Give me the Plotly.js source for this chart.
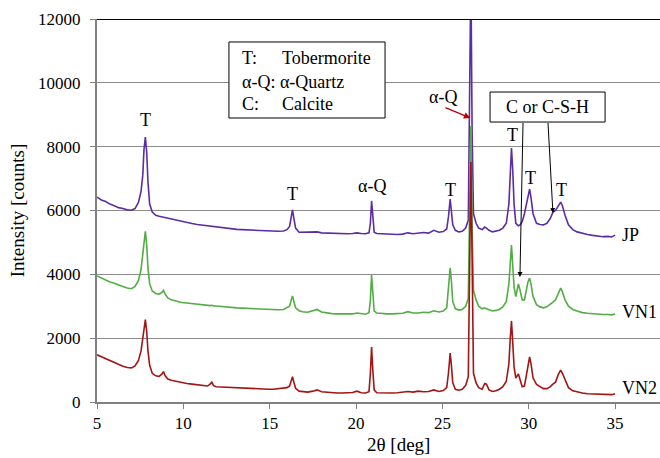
<!DOCTYPE html>
<html>
<head>
<meta charset="utf-8">
<script src="https://cdn.plot.ly/plotly-3.0.1.min.js"></script>
<style>html,body{margin:0;padding:0;background:#fff;}#chart{width:660px;height:458px;}</style>
</head>
<body>
<div id="chart"></div>
<script>
// 2-theta positions (deg)
var twoTheta = [
  5.0, 5.25, 5.5, 5.75, 6.0, 6.25, 6.5, 6.75, 7.0, 7.2,
  7.4, 7.55, 7.65, 7.72, 7.8, 7.88, 7.95, 8.05, 8.2, 8.4,
  8.6, 8.75, 8.85, 8.95, 9.1,
  9.3, 9.6, 9.9, 10.2, 10.5, 10.8, 11.1, 11.4,
  11.55, 11.65, 11.75,
  11.9, 12.2, 12.5, 12.8, 13.1, 13.4, 13.7, 14.0, 14.3, 14.6, 14.9, 15.2, 15.5, 15.8, 16.0,
  16.15, 16.25, 16.32, 16.4, 16.5, 16.7,
  16.9, 17.2, 17.5, 17.75, 18.0, 18.3, 18.6, 18.9, 19.2, 19.5, 19.8, 20.05, 20.3, 20.55, 20.75,
  20.83, 20.9, 20.97, 21.05,
  21.2, 21.5, 21.8, 22.1, 22.4, 22.7, 23.0, 23.3, 23.6, 23.9, 24.2, 24.5, 24.8, 25.05, 25.25,
  25.35, 25.45, 25.52, 25.6, 25.75,
  25.95, 26.15, 26.35, 26.5,
  26.58, 26.65, 26.72,
  26.8, 26.95, 27.1, 27.3, 27.45, 27.55, 27.7, 27.9, 28.1, 28.3, 28.5, 28.7, 28.85,
  28.93, 29.0, 29.07, 29.15, 29.25,
  29.4, 29.5, 29.62, 29.75, 29.85, 29.95, 30.05, 30.13, 30.25, 30.45, 30.65, 30.85, 31.05, 31.25,
  31.4, 31.55, 31.7, 31.85, 31.95, 32.1, 32.3, 32.55, 32.8, 33.1, 33.4, 33.7, 34.0, 34.3, 34.6, 34.8, 35.0
];
var jp = [
  6420, 6330, 6280, 6200, 6150, 6090, 6060, 6020, 6010, 6060,
  6250, 6600, 7100, 7900, 8300, 7800, 6900, 6200, 5950, 5850,
  5820, 5800, 5810, 5780, 5760,
  5730, 5700, 5650, 5630, 5590, 5560, 5540, 5520,
  5500, 5510, 5490,
  5480, 5460, 5440, 5430, 5410, 5400, 5390, 5380, 5370, 5360, 5350, 5350, 5350, 5360, 5400,
  5500, 5800, 6020, 5750, 5450, 5320,
  5320, 5310, 5310, 5330, 5300, 5290, 5290, 5280, 5280, 5270, 5280, 5300, 5280, 5270, 5300,
  5600, 6300, 5700, 5320,
  5280, 5270, 5260, 5260, 5250, 5260, 5300, 5270, 5280, 5310, 5290, 5380, 5320, 5340, 5420,
  5800, 6360, 6000, 5550, 5380,
  5330, 5350, 5450, 5700,
  9000, 13500, 8500,
  5900, 5600, 5450, 5400, 5480, 5450, 5380, 5330, 5350, 5380, 5450, 5600, 6200,
  7200, 7960, 7300, 6200, 5600,
  5520, 5550, 5650, 5900, 6200, 6500, 6670, 6400, 5900, 5600, 5560, 5550, 5600, 5750,
  5950, 6000, 6150, 6260, 6150, 5850, 5550, 5400, 5330, 5280, 5250, 5220, 5200, 5180, 5190, 5170, 5230
];
var vn1 = [
  3950, 3880, 3820, 3760, 3720, 3660, 3620, 3570, 3550, 3620,
  3800, 4150, 4600, 5100, 5350, 4900, 4200, 3700, 3480, 3400,
  3380, 3430, 3500, 3380, 3260,
  3200, 3150, 3120, 3100, 3080, 3060, 3040, 3030,
  3020, 3030, 3010,
  3010, 2990, 2970, 2960, 2950, 2940, 2930, 2920, 2910, 2900, 2890, 2890, 2890, 2900, 2950,
  3000, 3200, 3320, 3150, 2950, 2860,
  2830, 2810, 2850, 2900, 2820, 2790, 2770, 2760, 2760, 2750, 2760, 2790, 2760, 2750, 2800,
  3200, 3980, 3300, 2850,
  2790, 2770, 2760, 2760, 2770, 2780, 2830, 2790, 2790, 2810, 2800, 2860, 2820, 2850, 2950,
  3500, 4200, 3800, 3150, 2920,
  2880, 2900, 3000, 3250,
  6000, 8650, 5500,
  3500, 3200, 3000, 2920, 2950, 2920, 2880, 2850, 2870, 2900, 2980, 3150, 3700,
  4400, 4920, 4300, 3600, 3300,
  3700, 3500, 3200, 3200, 3450, 3750, 3880, 3700, 3300, 3050, 2980, 2950, 2980, 3050,
  3130, 3200, 3400, 3570, 3450, 3200, 3000, 2900, 2850, 2800, 2780, 2760, 2750, 2740, 2740, 2730, 2760
];
var vn2 = [
  1480, 1420, 1350, 1290, 1230, 1170, 1120, 1080, 1070, 1130,
  1300, 1600, 2000, 2400, 2580, 2200, 1600, 1150, 900, 820,
  800, 870, 950, 820, 720,
  680, 640, 600, 580, 560, 540, 520, 500,
  560, 620, 510,
  480, 470, 460, 450, 440, 430, 420, 420, 410, 410, 400, 400, 410, 420, 450,
  500, 700, 790, 620, 430, 340,
  320, 310, 340, 380, 320, 300, 290, 280, 280, 280, 300, 340, 290, 280, 320,
  900, 1720, 1000, 380,
  290, 280, 270, 280, 290, 300, 330, 310, 340, 320, 330, 380, 330, 360, 450,
  900, 1530, 1150, 600, 400,
  370, 400, 520, 800,
  5000, 7520, 4500,
  900, 600, 450, 400, 580, 560, 380, 330, 350, 400, 480, 650, 1200,
  2000, 2540, 1900, 1100, 750,
  880, 700, 480, 500, 800, 1200, 1410, 1200, 750, 550, 480, 420, 420, 480,
  560, 620, 850, 1000, 900, 680, 450, 350, 310, 280, 260, 250, 240, 230, 240, 230, 260
];
var seriesNames = ['JP', 'VN1', 'VN2'];
var xTicks = [5, 10, 15, 20, 25, 30, 35];
var yTicks = [0, 2000, 4000, 6000, 8000, 10000, 12000];

var FONT = '"Liberation Serif", "Times New Roman", Times, serif';
var colors = ['#5c2ca4', '#52ad43', '#a11515'];
var ys = [jp, vn1, vn2];

var traces = ys.map(function (y, i) {
  return {
    x: twoTheta, y: y, type: 'scatter', mode: 'lines', name: seriesNames[i],
    line: {color: colors[i], width: 1.6}, hoverinfo: 'skip'
  };
});

function label(x, y, t, extra) {
  var a = {x: x, y: y, xref: 'x', yref: 'y', text: t, showarrow: false,
    font: {family: FONT, size: 18, color: '#000'}, xanchor: 'center', yanchor: 'middle'};
  for (var k in extra) a[k] = extra[k];
  return a;
}
function arrow(x, y, ax, ay, color, w) {
  return {x: x, y: y, ax: ax, ay: ay, xref: 'x', yref: 'y', axref: 'x', ayref: 'y',
    text: '', showarrow: true, arrowhead: 2, arrowsize: 1, arrowwidth: w, arrowcolor: color};
}

var annotations = [
  label(7.8, 8835, 'T'),
  label(16.3, 6520, 'T'),
  label(20.9, 6770, 'α-Q'),
  label(25.45, 6640, 'T'),
  label(25.03, 9555, 'α-Q'),
  label(29.03, 8365, 'T'),
  label(30.1, 7020, 'T'),
  label(31.9, 6640, 'T'),
  label(35.28, 5230, seriesNames[0], {xanchor: 'left'}),
  label(35.28, 2820, seriesNames[1], {xanchor: 'left'}),
  label(35.28, 440, seriesNames[2], {xanchor: 'left'}),
  label(13.3, 10778, 'T:', {xanchor: 'left'}),
  label(15.6, 10778, 'Tobermorite', {xanchor: 'left'}),
  label(13.3, 10026, 'α-Q: α-Quartz', {xanchor: 'left'}),
  label(13.3, 9336, 'C:', {xanchor: 'left'}),
  label(15.6, 9336, 'Calcite', {xanchor: 'left'}),
  label(31.08, 9242, 'C or C-S-H'),
  arrow(26.62, 8898, 25.09, 9242, '#c00000', 1.3),
  arrow(29.49, 3916, 29.67, 8790, '#000', 1),
  arrow(31.40, 5920, 31.11, 8790, '#000', 1),
  {x: 0.535, y: -0.112, xref: 'paper', yref: 'paper', text: '2θ [deg]', showarrow: false,
    font: {family: FONT, size: 19, color: '#000'}, xanchor: 'center', yanchor: 'middle'}
];

var shapes = [
  {type: 'rect', xref: 'x', yref: 'y', x0: 12.64, x1: 21.68, y0: 8898, y1: 11280,
    line: {color: '#000', width: 1}, fillcolor: '#fff', layer: 'above'},
  {type: 'rect', xref: 'x', yref: 'y', x0: 27.76, x1: 34.42, y0: 8772, y1: 9712,
    line: {color: '#000', width: 1}, fillcolor: '#fff', layer: 'above'},
  {type: 'line', xref: 'paper', yref: 'y', x0: 0, x1: 1, y0: 12000, y1: 12000,
    line: {color: '#000', width: 2}, layer: 'above'}
];

var layout = {
  width: 660, height: 458,
  margin: {l: 97, r: 0, t: 19, b: 56},
  paper_bgcolor: '#fff', plot_bgcolor: '#fff',
  showlegend: false,
  font: {family: FONT, size: 17, color: '#000'},
  xaxis: {
    range: [5, 37.6], tickvals: xTicks, ticktext: xTicks.map(String),
    showgrid: false, zeroline: false,
    showline: true, linecolor: '#808080', linewidth: 2,
    ticks: 'outside', ticklen: 5, tickcolor: '#808080', tickwidth: 1,
    tickfont: {family: FONT, size: 17, color: '#000'}
  },
  yaxis: {
    range: [0, 12000], tickvals: yTicks, ticktext: yTicks.map(String),
    showgrid: true, gridcolor: '#8c8c8c', gridwidth: 1, zeroline: false,
    showline: true, linecolor: '#808080', linewidth: 2,
    ticks: 'outside', ticklen: 5, tickcolor: '#808080', tickwidth: 1,
    ticklabelstandoff: 6,
    tickfont: {family: FONT, size: 17, color: '#000'},
    title: {text: 'Intensity [counts]', font: {family: FONT, size: 19, color: '#000'}, standoff: 8}
  },
  annotations: annotations,
  shapes: shapes
};

Plotly.newPlot('chart', traces, layout, {displayModeBar: false, staticPlot: true});
</script>
</body>
</html>
